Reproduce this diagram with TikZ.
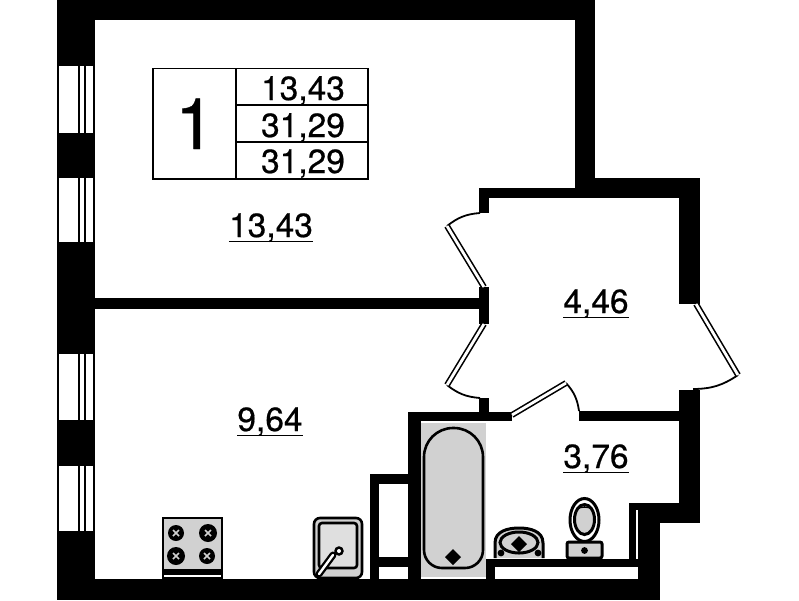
\documentclass[tikz,border=0pt]{standalone}
\usepackage{xcolor}
\usepackage{fontspec}
\setmainfont[FakeBold=0.5]{TeX Gyre Heros}
\definecolor{fixgray}{gray}{0.82}

\tikzset{
  wall/.style={fill=black, draw=none},
  leaf/.style={draw=black, line width=1.6pt, double=white, double distance=2.8pt},
  swing/.style={draw=black, line width=1.8pt},
  fixture/.style={draw=black, fill=fixgray, line width=2.6pt},
  gridline/.style={draw=black, line width=1.8pt},
  tablenum/.style={inner sep=0pt, anchor=base, font=\fontsize{33.5}{33.5}\selectfont},
  arealabel/.style={inner sep=0pt, anchor=base, font=\fontsize{33.5}{33.5}\selectfont}
}

\begin{document}
\begin{tikzpicture}[x=1pt, y=-1pt]
  \useasboundingbox (0,0) rectangle (799,600);

  \foreach \xa/\ya/\xb/\yb in {57/0/95/600, 57/0/595/20, 575/0/595/198, 479/188/575/198, 575/178/700/198,
      679/178/700/304, 479/188/489/213, 95/298/479/309, 479/287/489/324, 479/398/489/421,
      408/412/512/421, 408/412/421/600, 579/411/679/421, 679/390/700/523, 629/503/700/510,
      638/510/700/523, 629/510/636/567, 638/523/660/600, 486/559/638/567, 486/559/495/580,
      57/579/660/600, 370/474/408/484, 370/474/379/600, 379/557/408/567}{
    \fill[wall] (\xa,\ya) rectangle (\xb,\yb);
  }

  \foreach \ya/\yb in {66/133, 178/242, 354/420, 466/531}{
    \fill[white] (58.5,\ya) rectangle (93,\yb);
    \fill[black] (78,\ya) rectangle (79.7,\yb);
    \fill[black] (84.2,\ya) rectangle (86,\yb);
  }

  \coordinate (hinge1) at (484,287);
  \coordinate (tip1) at (447,226);
  \coordinate (stop1) at (480,213);
  \coordinate (hinge2) at (484,324);
  \coordinate (tip2) at (447,385);
  \coordinate (stop2) at (480,398);
  \coordinate (hinge3) at (696,304);
  \coordinate (tip3) at (738,375);
  \coordinate (stop3) at (693,389);
  \coordinate (hinge4) at (512,415);
  \coordinate (tip4) at (566,383);
  \coordinate (stop4) at (579,411);

  \draw[swing] (tip1) to[bend left=17] (stop1);
  \draw[swing] (tip2) to[bend right=17] (stop2);
  \draw[swing] (tip3) to[bend left=17] (stop3);
  \draw[swing] (tip4) to[bend left=17] (stop4);
  \foreach \i in {1,...,4}{
    \draw[leaf] (hinge\i) -- (tip\i);
  }

  % info table
  \draw[gridline] (153,68.5) rectangle (368,179);
  \draw[gridline, line width=2.2pt] (236,68.5) -- (236,179);
  \draw[gridline, line width=2.4pt] (236,105) -- (368,105);
  \draw[gridline, line width=2.4pt] (236,142) -- (368,142);
  \node[inner sep=0pt, anchor=base, font=\fontsize{71}{71}\selectfont] (flatno) at (195,149) {1};
  \foreach \y/\txt [count=\yi from 1] in {100/{13,43}, 137/{31,29}, 173/{31,29}}{
    \node[tablenum] (num\yi) at (303,\y) {\txt};
  }

  \foreach \x/\y/\txt [count=\xi from 1] in {271/237/{13,43}, 596/313/{4,46}, 596/468/{3,76}, 270/431/{9,64}}{
    \node[arealabel] (area\xi) at (\x,\y) {\txt};
    \draw[line width=1.6pt] ([yshift=-4.5pt]area\xi.base west) -- ([yshift=-4.5pt]area\xi.base east);
  }

  % stove
  \draw[fixture] (163,518) rectangle (222,578);
  \fill[black] (162,569) rectangle (223,579);
  \fill[white] (164,575.3) rectangle (221,576.5);
  \foreach \x/\y/\r in {176/533/8, 208/533/9, 176/556/9, 207/556/8}{
    \fill[black] (\x,\y) circle (\r);
    \draw[fixgray, line width=1.6pt] (\x-3,\y-3) -- (\x+3,\y+3) (\x-3,\y+3) -- (\x+3,\y-3);
  }

  % sink
  \draw[fixture, rounded corners=6pt] (314,518) rectangle (362,578);
  \draw[fixture, rounded corners=3pt, fill=fixgray!70] (319,523) rectangle (357,568);
  \draw[black, line width=7pt, line cap=round] (319,574) -- (333,555);
  \draw[white, line width=2.4pt, line cap=round] (319,574) -- (333,555);
  \fill[black] (339,551) circle (4.8);
  \fill[white] (339,551) circle (2);

  % bath
  \fill[fixgray] (421,423) rectangle (486,577);
  \draw[fixture] (424,500) [rounded corners=29pt] -- (424,428) -- (483,428) -- (483,500)
    [rounded corners=18pt] -- (483,568) -- (424,568) -- cycle;
  \fill[black] (453,549) -- (461,557) -- (453,565) -- (445,557) -- cycle;

  % basin
  \draw[fixture, line width=3pt] (495,558) -- (495,543) .. controls (495,531) and (508,528) .. (519,528)
    .. controls (530,528) and (543,531) .. (543,543) -- (543,558);
  \draw[fixture, line width=3pt] (519,542.5) ellipse (19 and 10.5);
  \fill[black] (519,536) -- (527,544) -- (519,552) -- (511,544) -- cycle;
  \fill[black] (501,553) circle (3.4);
  \fill[black] (538,553) circle (3.4);

  % toilet
  \draw[fixture, fill=white, line width=3pt] (584.5,520) ellipse (14.5 and 21.5);
  \draw[fixture, line width=3pt] (584.5,519.5) ellipse (10 and 15);
  \begin{scope}
    \clip (584.5,519.5) ellipse (8.5 and 13.5);
    \fill[white] (570,500) rectangle (600,507.5);
  \end{scope}
  \draw[black, line width=1.6pt] (578,508) to[bend left=15] (591,508);
  \draw[fixture, rounded corners=2pt, line width=3pt] (567,542) rectangle (602,558);
  \fill[black] (584.5,550.5) circle (3.4);
\end{tikzpicture}
\end{document}
